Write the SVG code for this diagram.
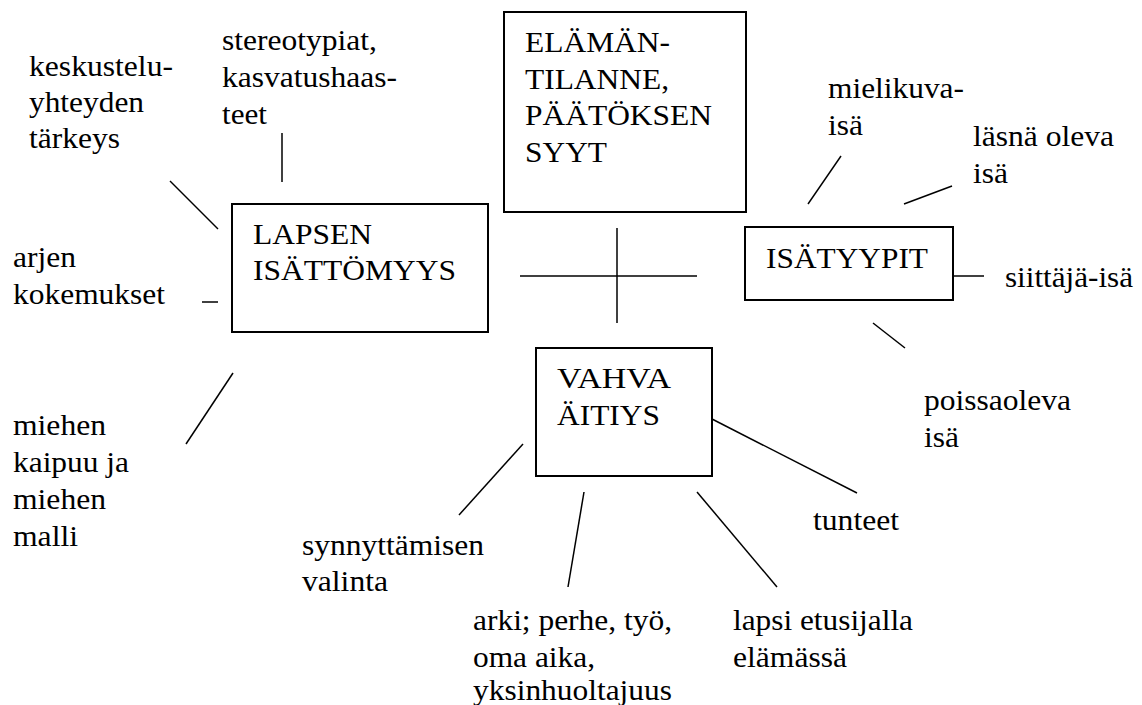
<svg xmlns="http://www.w3.org/2000/svg" width="1142" height="705" viewBox="0 0 1142 705" font-family="Liberation Serif, Times New Roman, serif">
<style>
text{font-size:29px;fill:#000}
.box{fill:#fff;stroke:#000;stroke-width:2}
.ln{stroke:#000;stroke-width:1.5;fill:none}
</style>
<rect width="1142" height="705" fill="#fff"/>
<g id="connectors">
<line class="ln" x1="282" y1="133" x2="282" y2="182"/>
<line class="ln" x1="170" y1="181" x2="218" y2="229"/>
<line class="ln" x1="202" y1="302" x2="218" y2="302"/>
<line class="ln" x1="233" y1="373" x2="186" y2="444"/>
<line class="ln" x1="520" y1="276" x2="697" y2="276"/>
<line class="ln" x1="617" y1="228" x2="617" y2="323"/>
<line class="ln" x1="953" y1="276" x2="984" y2="276"/>
<line class="ln" x1="841" y1="156" x2="808" y2="204"/>
<line class="ln" x1="952" y1="186" x2="904" y2="204"/>
<line class="ln" x1="873" y1="323" x2="905" y2="348"/>
<line class="ln" x1="523" y1="444" x2="459" y2="515"/>
<line class="ln" x1="584" y1="492" x2="568" y2="587"/>
<line class="ln" x1="697" y1="492" x2="777" y2="587"/>
<line class="ln" x1="712" y1="419" x2="857" y2="493"/>
</g>
<g id="lapsen">
<rect class="box" x="232" y="204" width="256" height="128"/>
<text x="253" y="244" textLength="119" lengthAdjust="spacingAndGlyphs">LAPSEN</text>
<text x="253" y="280" textLength="203" lengthAdjust="spacingAndGlyphs">ISÄTTÖMYYS</text>
</g>
<g id="elaman">
<rect class="box" x="504" y="12" width="242" height="200"/>
<text x="525" y="52" textLength="145" lengthAdjust="spacingAndGlyphs">ELÄMÄN-</text>
<text x="525" y="89" textLength="144" lengthAdjust="spacingAndGlyphs">TILANNE,</text>
<text x="525" y="125" textLength="187" lengthAdjust="spacingAndGlyphs">PÄÄTÖKSEN</text>
<text x="525" y="162" textLength="82" lengthAdjust="spacingAndGlyphs">SYYT</text>
</g>
<g id="isatyypit">
<rect class="box" x="745" y="227" width="208" height="73"/>
<text x="766" y="268" textLength="162" lengthAdjust="spacingAndGlyphs">ISÄTYYPIT</text>
</g>
<g id="vahva">
<rect class="box" x="536" y="348" width="176" height="128"/>
<text x="557" y="388" textLength="114" lengthAdjust="spacingAndGlyphs">VAHVA</text>
<text x="557" y="425" textLength="103" lengthAdjust="spacingAndGlyphs">ÄITIYS</text>
</g>
<g id="keskustelu">
<text x="29" y="76" textLength="144" lengthAdjust="spacingAndGlyphs">keskustelu-</text>
<text x="29" y="112" textLength="115" lengthAdjust="spacingAndGlyphs">yhteyden</text>
<text x="29" y="148" textLength="91" lengthAdjust="spacingAndGlyphs">tärkeys</text>
</g>
<g id="stereotypiat">
<text x="222" y="50" textLength="155" lengthAdjust="spacingAndGlyphs">stereotypiat,</text>
<text x="222" y="87" textLength="175" lengthAdjust="spacingAndGlyphs">kasvatushaas-</text>
<text x="222" y="124" textLength="45" lengthAdjust="spacingAndGlyphs">teet</text>
</g>
<g id="arjen">
<text x="13" y="267" textLength="63" lengthAdjust="spacingAndGlyphs">arjen</text>
<text x="13" y="304" textLength="152" lengthAdjust="spacingAndGlyphs">kokemukset</text>
</g>
<g id="miehen">
<text x="13" y="435" textLength="93" lengthAdjust="spacingAndGlyphs">miehen</text>
<text x="13" y="472" textLength="116" lengthAdjust="spacingAndGlyphs">kaipuu ja</text>
<text x="13" y="509" textLength="93" lengthAdjust="spacingAndGlyphs">miehen</text>
<text x="13" y="546" textLength="65" lengthAdjust="spacingAndGlyphs">malli</text>
</g>
<g id="mielikuva">
<text x="828" y="98" textLength="136" lengthAdjust="spacingAndGlyphs">mielikuva-</text>
<text x="828" y="135" textLength="35" lengthAdjust="spacingAndGlyphs">isä</text>
</g>
<g id="lasna">
<text x="973" y="146" textLength="141" lengthAdjust="spacingAndGlyphs">läsnä oleva</text>
<text x="973" y="183" textLength="35" lengthAdjust="spacingAndGlyphs">isä</text>
</g>
<g id="siittaja">
<text x="1005" y="287" textLength="128" lengthAdjust="spacingAndGlyphs">siittäjä-isä</text>
</g>
<g id="poissaoleva">
<text x="924" y="410" textLength="147" lengthAdjust="spacingAndGlyphs">poissaoleva</text>
<text x="924" y="447" textLength="35" lengthAdjust="spacingAndGlyphs">isä</text>
</g>
<g id="tunteet">
<text x="813" y="530" textLength="86" lengthAdjust="spacingAndGlyphs">tunteet</text>
</g>
<g id="synnyttamisen">
<text x="302" y="555" textLength="182" lengthAdjust="spacingAndGlyphs">synnyttämisen</text>
<text x="302" y="591" textLength="86" lengthAdjust="spacingAndGlyphs">valinta</text>
</g>
<g id="arki">
<text x="473" y="630" textLength="199" lengthAdjust="spacingAndGlyphs">arki; perhe, työ,</text>
<text x="473" y="667" textLength="122" lengthAdjust="spacingAndGlyphs">oma aika,</text>
<text x="473" y="700" textLength="199" lengthAdjust="spacingAndGlyphs">yksinhuoltajuus</text>
</g>
<g id="lapsi">
<text x="733" y="630" textLength="180" lengthAdjust="spacingAndGlyphs">lapsi etusijalla</text>
<text x="733" y="667" textLength="114" lengthAdjust="spacingAndGlyphs">elämässä</text>
</g>
</svg>
